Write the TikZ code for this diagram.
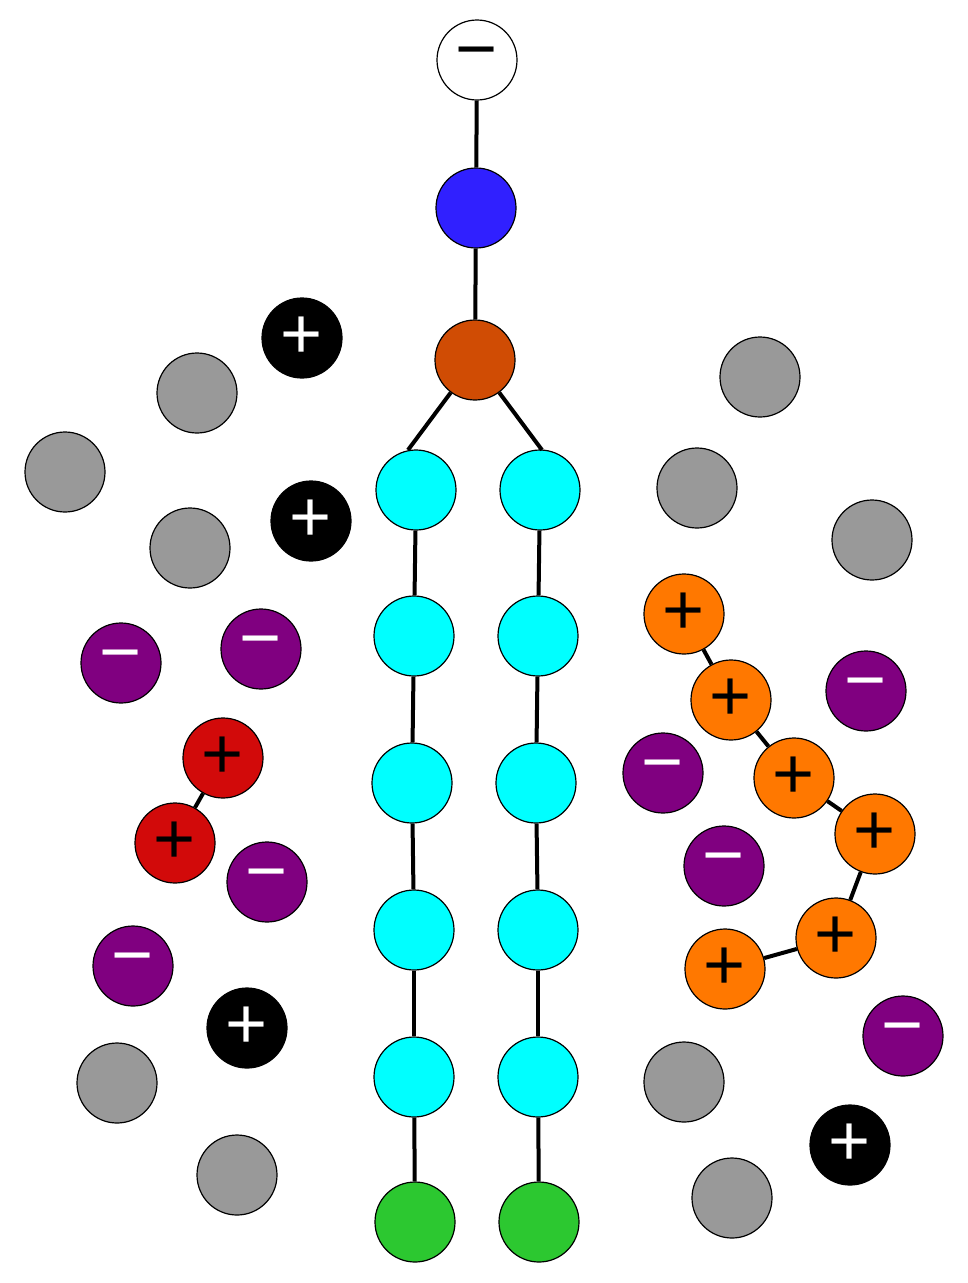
\documentclass[tikz,border=0pt]{standalone}
\usepackage{fontspec}
\setmainfont{Liberation Sans}
\begin{document}
\begin{tikzpicture}[x=1pt,y=-1pt,
 b/.style={circle,draw=black,line width=1.2pt,minimum size=80pt,inner sep=0pt,font=\fontsize{72}{72}\selectfont},
 gray/.style={b,fill=gray!80},
 cy/.style={b,fill={rgb,255:red,0;green,255;blue,255}},
 gr/.style={b,fill={rgb,255:red,44;green,200;blue,48}},
 bp/.style={b,fill=black,text=white},
 pm/.style={b,fill={rgb,255:red,128;green,0;blue,128},text=white},
 rp/.style={b,fill={rgb,255:red,210;green,10;blue,10}},
 op/.style={b,fill={rgb,255:red,255;green,120;blue,0}},
 con/.style={line width=4pt}]
\useasboundingbox (0,0) rectangle (967,1283);
\node[b,fill=white] (w) at (477,60) {−};
\node[b,fill={rgb,255:red,48;green,32;blue,255}] (bl) at (476,208) {};
\node[b,fill={rgb,255:red,208;green,76;blue,4}] (br) at (475,360) {};
\foreach \i/\y/\xl/\xr in {1/490/416/540,2/636/414/538,3/783/412/536,4/930/414/538,5/1077/414/538}{
 \node[cy] (l\i) at (\xl,\y) {};
 \node[cy] (r\i) at (\xr,\y) {};}
\node[gr] (l6) at (415,1222) {};
\node[gr] (r6) at (539,1222) {};
\coordinate (la) at (408,450);
\coordinate (ra) at (542,450);
\draw[con] (w)--(bl) (bl)--(br) (br)--(la) (br)--(ra);
\foreach \i [evaluate=\i as \j using int(\i+1)] in {1,...,5}{\draw[con] (l\i)--(l\j) (r\i)--(r\j);}
\foreach \p [count=\k] in {(197,393),(65,472),(190,548),(117,1083),(237,1175),(760,377),(697,488),(872,540),(684,1082),(732,1198)}
 \node[gray] (g\k) at \p {};
\foreach \p [count=\k] in {(302,338),(311,521),(247,1028),(850,1145)}
 \node[bp] (k\k) at \p {+};
\foreach \p [count=\k] in {(121,663),(261,649),(267,882),(133,966),(663,773),(866,691),(724,866),(903,1036)}
 \node[pm] (m\k) at \p {−};
\node[rp] (rd1) at (223,758) {+};
\node[rp] (rd2) at (175,843) {+};
\draw[con] (rd1)--(rd2);
\foreach \p [count=\k] in {(684,614),(731,700),(794,778),(875,834),(836,938),(725,969)}
 \node[op] (o\k) at \p {+};
\draw[con] (o1)--(o2) (o2)--(o3) (o3)--(o4) (o4)--(o5) (o5)--(o6);
\end{tikzpicture}
\end{document}
